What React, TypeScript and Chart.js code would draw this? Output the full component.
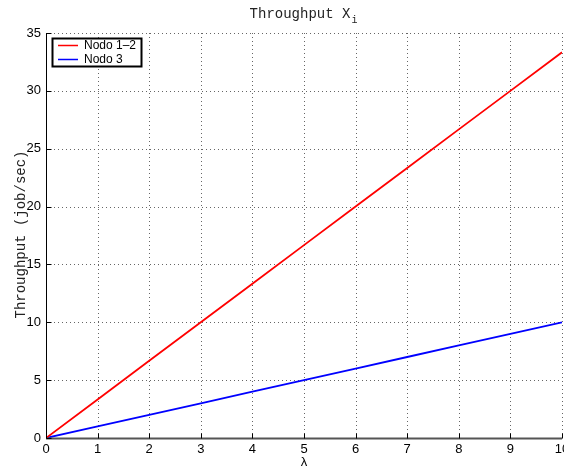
import React, { useEffect, useRef } from "react";
import { Chart, registerables } from "chart.js";

Chart.register(...registerables);

// Arrival rate λ and per-node throughput (job/sec)
const lambdas = [0, 1, 2, 3, 4, 5, 6, 7, 8, 9, 10];
const nodo12 = [0, 3.33, 6.67, 10, 13.33, 16.67, 20, 23.33, 26.67, 30, 33.33];
const nodo3 = [0, 1, 2, 3, 4, 5, 6, 7, 8, 9, 10];
const xTicks = [0, 1, 2, 3, 4, 5, 6, 7, 8, 9, 10];
const yTicks = [0, 5, 10, 15, 20, 25, 30, 35];
const seriesNames = ["Nodo 1\u20132", "Nodo 3"];
const seriesColors = ["#ff0000", "#0000ff"];

const MONO = '"Liberation Mono", "DejaVu Sans Mono", monospace';
const SANS = '"Liberation Sans", Arial, sans-serif';

const matlabAxes = {
  id: "matlabAxes",
  beforeDatasetsDraw(chart: any) {
    const { ctx, chartArea: a, scales } = chart;
    ctx.save();
    ctx.strokeStyle = "#666";
    ctx.lineWidth = 1;
    ctx.setLineDash([1, 3]);
    for (const v of xTicks) {
      if (v === 0) continue;
      const x = Math.round(scales.x.getPixelForValue(v)) + 0.5;
      ctx.beginPath();
      ctx.moveTo(x, a.top);
      ctx.lineTo(x, a.bottom);
      ctx.stroke();
    }
    for (const v of yTicks) {
      if (v === 0) continue;
      const y = Math.round(scales.y.getPixelForValue(v)) + 0.5;
      ctx.beginPath();
      ctx.moveTo(a.left, y);
      ctx.lineTo(a.right, y);
      ctx.stroke();
    }
    ctx.restore();
  },
  afterDraw(chart: any) {
    const { ctx, chartArea: a, scales } = chart;
    ctx.save();
    // axis lines
    ctx.setLineDash([]);
    ctx.strokeStyle = "#000";
    ctx.lineWidth = 1;
    const left = Math.round(a.left) + 0.5;
    const bottom = Math.round(a.bottom) + 0.5;
    ctx.beginPath();
    ctx.moveTo(left, a.top);
    ctx.lineTo(left, bottom);
    ctx.stroke();
    ctx.strokeStyle = "#555";
    ctx.lineWidth = 2;
    ctx.beginPath();
    ctx.moveTo(a.left, bottom);
    ctx.lineTo(a.right, bottom);
    ctx.stroke();
    // inward ticks
    ctx.strokeStyle = "#000";
    ctx.lineWidth = 1;
    for (const v of xTicks) {
      const x = Math.round(scales.x.getPixelForValue(v)) + 0.5;
      ctx.beginPath();
      ctx.moveTo(x, bottom);
      ctx.lineTo(x, bottom - 5);
      ctx.stroke();
    }
    for (const v of yTicks) {
      const y = Math.round(scales.y.getPixelForValue(v)) + 0.5;
      ctx.beginPath();
      ctx.moveTo(left, y);
      ctx.lineTo(left + 5, y);
      ctx.stroke();
    }

    // title with subscript
    const cx = (a.left + a.right) / 2;
    ctx.fillStyle = "#222";
    ctx.font = `14px ${MONO}`;
    ctx.textBaseline = "alphabetic";
    const main = "Throughput X";
    const w = ctx.measureText(main).width;
    ctx.textAlign = "left";
    const tx = cx - w / 2 - 4;
    ctx.fillText(main, tx, 18);
    ctx.font = `10px ${MONO}`;
    ctx.fillText("i", tx + w + 1, 23);

    // y label
    ctx.font = `14px ${MONO}`;
    ctx.textAlign = "center";
    ctx.textBaseline = "middle";
    ctx.save();
    ctx.translate(21, (a.top + a.bottom) / 2 - 1);
    ctx.rotate(-Math.PI / 2);
    ctx.fillText("Throughput (job/sec)", 0, 0);
    ctx.restore();

    // x label
    ctx.fillStyle = "#000";
    ctx.font = `13px ${SANS}`;
    ctx.fillText("\u03bb", cx, 462);

    // legend box
    const bx = 52.5, by = 38.5, bw = 89, bh = 28;
    ctx.fillStyle = "#fff";
    ctx.fillRect(bx, by, bw, bh);
    ctx.strokeStyle = "#000";
    ctx.lineWidth = 2;
    ctx.strokeRect(bx, by, bw, bh);
    ctx.font = `12px ${SANS}`;
    ctx.textAlign = "left";
    ctx.textBaseline = "middle";
    seriesNames.forEach((name, i) => {
      const y = 45.5 + i * 14;
      ctx.strokeStyle = seriesColors[i];
      ctx.lineWidth = 1.5;
      ctx.beginPath();
      ctx.moveTo(58, y);
      ctx.lineTo(78, y);
      ctx.stroke();
      ctx.fillStyle = "#000";
      ctx.fillText(name, 84, y);
    });
    ctx.restore();
  },
};

export default function App() {
  const ref = useRef<HTMLCanvasElement | null>(null);

  useEffect(() => {
    document.body.style.margin = "0";
    document.body.style.background = "#fff";
    const canvas = ref.current;
    if (!canvas) return;
    const chart = new Chart(canvas, {
      type: "line",
      data: {
        datasets: [
          {
            label: seriesNames[0],
            data: lambdas.map((x, i) => ({ x, y: nodo12[i] })),
            borderColor: seriesColors[0],
            borderWidth: 1.8,
            pointRadius: 0,
            tension: 0,
          },
          {
            label: seriesNames[1],
            data: lambdas.map((x, i) => ({ x, y: nodo3[i] })),
            borderColor: seriesColors[1],
            borderWidth: 1.8,
            pointRadius: 0,
            tension: 0,
          },
        ],
      },
      plugins: [matlabAxes],
      options: {
        responsive: false,
        animation: false,
        events: [],
        layout: { autoPadding: false, padding: { top: 33, right: 2, left: 0, bottom: 0 } },
        plugins: { legend: { display: false }, title: { display: false }, tooltip: { enabled: false } },
        scales: {
          x: {
            type: "linear",
            min: 0,
            max: 10,
            afterFit: (s: any) => {
              s.height = 33;
              s.paddingLeft = 0;
              s.paddingRight = 0;
            },
            afterBuildTicks: (s: any) => { s.ticks = xTicks.map((v) => ({ value: v })); },
            grid: { display: false, drawTicks: false },
            border: { display: false },
            ticks: { color: "#000", padding: 4, maxRotation: 0, autoSkip: false, font: { family: SANS, size: 13 } },
          },
          y: {
            type: "linear",
            min: 0,
            max: 35,
            afterFit: (s: any) => {
              s.width = 46;
              s.paddingTop = 0;
              s.paddingBottom = 0;
            },
            afterBuildTicks: (s: any) => { s.ticks = yTicks.map((v) => ({ value: v })); },
            grid: { display: false, drawTicks: false },
            border: { display: false },
            ticks: { color: "#000", padding: 5, autoSkip: false, font: { family: SANS, size: 13 } },
          },
        },
      },
    } as any);
    return () => chart.destroy();
  }, []);

  return (
    <div style={{ width: 564, height: 471 }}>
      <canvas ref={ref} width={564} height={471} style={{ display: "block" }} />
    </div>
  );
}
